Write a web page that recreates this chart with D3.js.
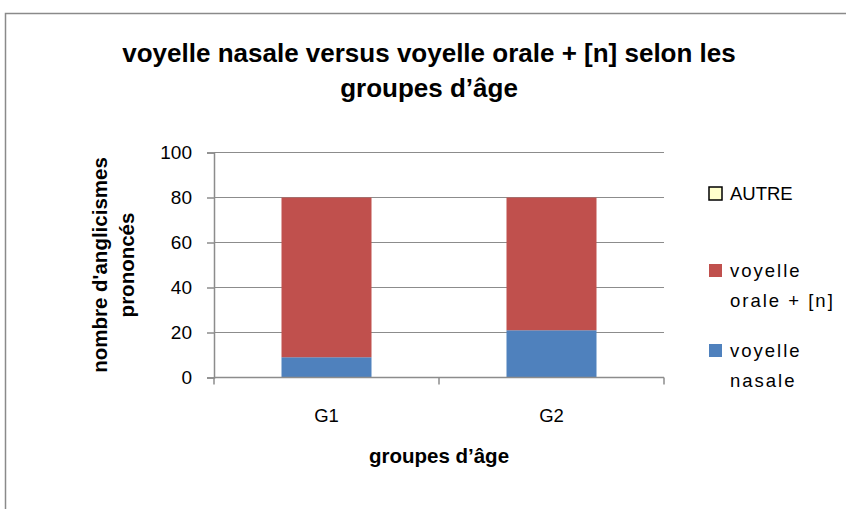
<!DOCTYPE html>
<html>
<head>
<meta charset="utf-8">
<script src="https://cdn.jsdelivr.net/npm/d3@7"></script>
<style>
body { margin: 0; background: #fff; }
text { font-family: "Liberation Sans", sans-serif; fill: #000; }
</style>
</head>
<body>
<div id="chart"></div>
<script>
// stacked bars, age groups

const groups = ['G1', 'G2']
const nasale = [9, 21]
const orale = [71, 59]
const autre = [0, 0]
const yTicks = [0, 20, 40, 60, 80, 100]

const series = [
	{ name: 'voyelle nasale', lines: ['voyelle', 'nasale'], values: nasale, color: '#4f81bd' },
	{ name: 'voyelle orale + [n]', lines: ['voyelle', 'orale + [n]'], values: orale, color: '#c0504d' },
	{ name: 'AUTRE', lines: ['AUTRE'], values: autre, color: '#ffffcc' }
]

const width = 846
const height = 509
const plotLeft = 214, plotRight = 664, plotTop = 152.5, plotBottom = 377.5

const svg = d3.select('#chart')
	.append('svg')
	.attr('width', width)
	.attr('height', height)

// frame
svg.append('rect')
	.attr('x', 5.5).attr('y', 13.5)
	.attr('width', 900).attr('height', 600)
	.attr('fill', '#fff')
	.attr('stroke', '#8a8a8a')
	.attr('stroke-width', 1.5)

const x = d3.scaleBand()
	.domain(groups)
	.range([plotLeft, plotRight])
	.paddingInner(0.6)
	.paddingOuter(0.3)

const y = d3.scaleLinear()
	.domain([0, 100])
	.range([plotBottom, plotTop])

// gridlines
svg.append('g')
	.selectAll('line')
	.data(yTicks.slice(1))
	.enter()
	.append('line')
	.attr('x1', plotLeft).attr('x2', plotRight)
	.attr('y1', d => y(d)).attr('y2', d => y(d))
	.attr('stroke', '#8c8c8c')
	.attr('stroke-width', 1)

// stack
const rows = groups.map((g, i) => {
	let r = { group: g }
	series.forEach(s => { r[s.name] = s.values[i] })
	return r
})
const stacked = d3.stack().keys(series.map(s => s.name))(rows)

svg.append('g')
	.selectAll('g')
	.data(stacked)
	.enter()
	.append('g')
	.attr('fill', (d, i) => series[i].color)
	.selectAll('rect')
	.data(d => d)
	.enter()
	.append('rect')
	.attr('x', d => x(d.data.group))
	.attr('y', d => y(d[1]))
	.attr('width', x.bandwidth())
	.attr('height', d => y(d[0]) - y(d[1]))

// y axis
const yAxis = svg.append('g')
	.attr('transform', `translate(${plotLeft},0)`)
	.call(d3.axisLeft(y).tickValues(yTicks).tickSize(7).tickPadding(15))
yAxis.select('.domain').attr('stroke', '#8c8c8c').attr('stroke-width', 1.5)
yAxis.selectAll('.tick line').attr('stroke', '#8c8c8c').attr('stroke-width', 1.5)
yAxis.selectAll('text')
	.attr('style', 'font-size: 19px; font-family: "Liberation Sans", sans-serif')
	.attr('fill', '#000')

// x axis, ticks between categories
const xAxis = svg.append('g')
	.attr('transform', `translate(0,${plotBottom})`)
xAxis.append('line')
	.attr('x1', plotLeft).attr('x2', plotRight)
	.attr('stroke', '#8c8c8c').attr('stroke-width', 1.5)
xAxis.selectAll('line.tk')
	.data([plotLeft, (plotLeft + plotRight) / 2, plotRight])
	.enter()
	.append('line')
	.attr('class', 'tk')
	.attr('x1', d => d).attr('x2', d => d)
	.attr('y1', 0).attr('y2', 7)
	.attr('stroke', '#8c8c8c').attr('stroke-width', 1.5)
xAxis.selectAll('text')
	.data(groups)
	.enter()
	.append('text')
	.attr('x', d => x(d) + x.bandwidth() / 2)
	.attr('y', 44)
	.attr('text-anchor', 'middle')
	.attr('style', 'font-size: 18.5px')
	.text(d => d)

// titles
const title = svg.append('text')
	.attr('text-anchor', 'middle')
	.attr('font-weight', 'bold')
	.attr('style', 'font-size: 26px')
title.append('tspan').attr('x', 429).attr('y', 62).text('voyelle nasale versus voyelle orale + [n] selon les')
title.append('tspan').attr('x', 429).attr('y', 97).text('groupes d\u2019âge')

svg.append('text')
	.attr('x', 439).attr('y', 463)
	.attr('text-anchor', 'middle')
	.attr('font-weight', 'bold')
	.attr('style', 'font-size: 20.5px')
	.text('groupes d\u2019âge')

const yTitle = svg.append('text')
	.attr('transform', 'translate(107,265) rotate(-90)')
	.attr('text-anchor', 'middle')
	.attr('font-weight', 'bold')
	.attr('style', 'font-size: 20.5px')
yTitle.append('tspan').attr('x', 0).attr('y', 0).text('nombre d\'anglicismes')
yTitle.append('tspan').attr('x', 0).attr('y', 27).text('prononcés')

// legend, top to bottom reversed
const legendY = [187, 264, 344]
const legend = svg.append('g')
	.selectAll('g')
	.data(series.slice().reverse())
	.enter()
	.append('g')
	.attr('transform', (d, i) => `translate(709,${legendY[i]})`)
legend.append('rect')
	.attr('x', 0).attr('y', 0)
	.attr('width', 13).attr('height', 13)
	.attr('fill', d => d.color)
	.attr('stroke', d => d.name === 'AUTRE' ? '#000' : 'none')
	.attr('stroke-width', 1.5)
legend.append('text')
	.attr('style', d => 'font-size: 18.5px; letter-spacing: ' + (d.name === 'AUTRE' ? '0px' : '2px'))
	.selectAll('tspan')
	.data(d => d.lines)
	.enter()
	.append('tspan')
	.attr('x', 21)
	.attr('y', (d, i) => 13 + i * 30)
	.text(d => d)
</script>
</body>
</html>
